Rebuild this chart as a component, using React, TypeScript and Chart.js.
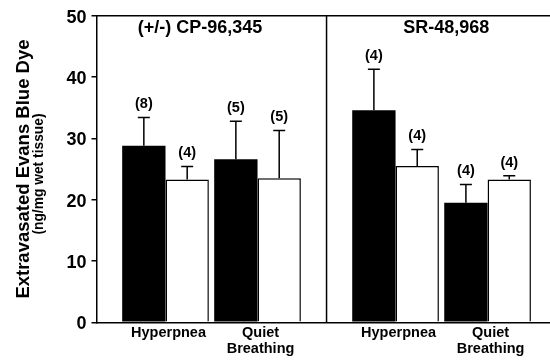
import React, { useEffect, useRef } from "react";
import { Chart, registerables } from "chart.js";

Chart.register(...registerables);

// ---- data ----
const panelTitles = ["(+/-) CP-96,345", "SR-48,968"];
const categories = ["Hyperpnea", "Quiet Breathing", "Hyperpnea", "Quiet Breathing"];
const categoryPanel = [0, 0, 1, 1];
const blackValues = [28.8, 26.6, 34.6, 19.5];
const blackErrors = [4.6, 6.2, 6.7, 3.0];
const blackN = [8, 5, 4, 4];
const whiteValues = [23.3, 23.5, 25.5, 23.3];
const whiteErrors = [2.1, 7.8, 2.7, 0.6];
const whiteN = [4, 5, 4, 4];
const yTickValues = [0, 10, 20, 30, 40, 50];
const yTitle = "Extravasated Evans Blue Dye";
const ySubTitle = "(ng/mg wet tissue)";

// ---- layout (x units) ----
const PANEL_SPAN = 10;
const GROUP_START = 3;
const GROUP_STEP = 4;
const X_MAX = 19.67;
const TITLE_OFFSETS = [4.5, 5.2];

const FONT = '"Liberation Sans", Arial, Helvetica, sans-serif';

function groupPosition(i: number): number {
  const p = categoryPanel[i];
  let within = 0;
  for (let k = 0; k < i; k++) if (categoryPanel[k] === p) within++;
  return p * PANEL_SPAN + GROUP_START + GROUP_STEP * within;
}

const positions = categories.map((_, i) => groupPosition(i));

const overlayPlugin = {
  id: "overlay",
  afterDatasetsDraw(chart: any) {
    const { ctx, chartArea: ca, scales } = chart;
    const xs = scales.x;
    const ys = scales.y;
    ctx.save();
    ctx.strokeStyle = "#000";
    ctx.fillStyle = "#000";
    ctx.lineWidth = 1.5;

    // top frame line
    ctx.beginPath();
    ctx.moveTo(ca.left, ca.top);
    ctx.lineTo(ca.right + 1, ca.top);
    ctx.stroke();

    // panel divider
    const dx = xs.getPixelForValue(PANEL_SPAN);
    ctx.beginPath();
    ctx.moveTo(dx, ca.top);
    ctx.lineTo(dx, ca.bottom);
    ctx.stroke();

    // error bars and n labels
    const sets: [number[], number[], number[]][] = [
      [blackValues, blackErrors, blackN],
      [whiteValues, whiteErrors, whiteN],
    ];
    ctx.font = `bold 14.5px ${FONT}`;
    ctx.textAlign = "center";
    ctx.textBaseline = "bottom";
    sets.forEach(([vals, errs, ns], di) => {
      const meta = chart.getDatasetMeta(di);
      meta.data.forEach((bar: any, i: number) => {
        const base = ys.getPixelForValue(vals[i]);
        const top = ys.getPixelForValue(vals[i] + errs[i]);
        ctx.beginPath();
        ctx.moveTo(bar.x, base);
        ctx.lineTo(bar.x, top);
        ctx.moveTo(bar.x - 6, top);
        ctx.lineTo(bar.x + 6, top);
        ctx.stroke();
        ctx.fillText(`(${ns[i]})`, bar.x, top - 6);
      });
    });

    // panel titles
    ctx.font = `bold 18px ${FONT}`;
    ctx.textBaseline = "middle";
    panelTitles.forEach((t, p) => {
      const px = xs.getPixelForValue(p * PANEL_SPAN + TITLE_OFFSETS[p]);
      ctx.fillText(t, px, ca.top + 12.5);
    });

    // y-axis titles
    const cy = (ca.top + ca.bottom) / 2;
    ctx.save();
    ctx.translate(24, cy);
    ctx.rotate(-Math.PI / 2);
    ctx.font = `bold 18.5px ${FONT}`;
    ctx.fillText(yTitle, 0, 0);
    ctx.restore();
    ctx.save();
    ctx.translate(39, cy + 5);
    ctx.rotate(-Math.PI / 2);
    ctx.font = `bold 13.8px ${FONT}`;
    ctx.fillText(ySubTitle, 0, 0);
    ctx.restore();

    ctx.restore();
  },
};

export default function App() {
  const canvasRef = useRef<HTMLCanvasElement | null>(null);

  useEffect(() => {
    if (!canvasRef.current) return;
    Chart.defaults.color = "#000";
    const chart = new Chart(canvasRef.current, {
      type: "bar",
      data: {
        datasets: [
          {
            label: "black",
            data: categories.map((_, i) => ({ x: positions[i], y: blackValues[i] })),
            backgroundColor: "#000",
            borderColor: "#000",
            borderWidth: 0,
            categoryPercentage: 0.942,
            barPercentage: 1,
          },
          {
            label: "white",
            data: categories.map((_, i) => ({ x: positions[i], y: whiteValues[i] })),
            backgroundColor: "#fff",
            borderColor: "#000",
            borderWidth: 1.5,
            categoryPercentage: 0.942,
            barPercentage: 1,
          },
        ] as any,
      },
      options: {
        animation: false,
        responsive: true,
        maintainAspectRatio: false,
        layout: { padding: { left: 0, right: 1, top: 12.5, bottom: 0 } },
        plugins: {
          legend: { display: false },
          tooltip: { enabled: false },
        },
        scales: {
          x: {
            type: "linear",
            min: 0,
            max: X_MAX,
            offset: false,
            grid: { display: false, drawTicks: false },
            border: { display: true, color: "#000", width: 1.5 },
            afterBuildTicks: (scale: any) => {
              scale.ticks = positions.map((v) => ({ value: v }));
            },
            afterFit: (scale: any) => {
              scale.height = 38.7;
            },
            ticks: {
              autoSkip: false,
              maxRotation: 0,
              padding: 3,
              labelOffset: 3,
              color: "#000",
              font: { family: FONT, size: 14.5, weight: "bold", lineHeight: 1.07 },
              callback: (_v: any, i: number) => categories[i].split(" "),
            },
          },
          y: {
            type: "linear",
            min: 0,
            max: 50,
            afterBuildTicks: (scale: any) => {
              scale.ticks = yTickValues.map((v) => ({ value: v }));
            },
            afterFit: (scale: any) => {
              scale.width = 96.5;
            },
            grid: {
              drawOnChartArea: false,
              drawTicks: true,
              tickLength: 5,
              color: "#000",
              lineWidth: 1.5,
            },
            border: { display: true, color: "#000", width: 1.5 },
            ticks: {
              padding: 5,
              labelOffset: 2,
              color: "#000",
              font: { family: FONT, size: 18, weight: "bold" },
            },
          },
        },
      } as any,
      plugins: [overlayPlugin],
    });
    return () => chart.destroy();
  }, []);

  return (
    <div style={{ position: "absolute", left: 0, top: 0, width: 550, height: 361, background: "#fff" }}>
      <canvas ref={canvasRef} />
    </div>
  );
}
